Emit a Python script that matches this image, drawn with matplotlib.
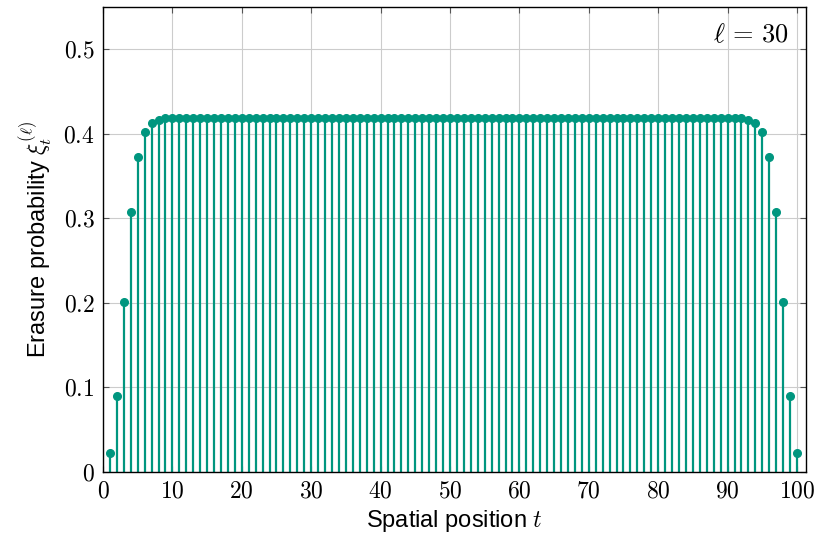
import matplotlib
matplotlib.use('Agg')
import matplotlib.pyplot as plt
import numpy as np

plt.rcParams['mathtext.fontset'] = 'cm'
plt.rcParams['font.family'] = ['Liberation Sans', 'DejaVu Sans']

# erasure probability per spatial position (symmetric profile)
edge_values = [0.0225, 0.0895, 0.201, 0.308, 0.3725, 0.402, 0.4128, 0.4167, 0.4182]
flat_value = 0.4187
positions = np.arange(1, 101)
values = edge_values + [flat_value] * (100 - 2 * len(edge_values)) + edge_values[::-1]

x_ticks = [0, 10, 20, 30, 40, 50, 60, 70, 80, 90, 100]
y_ticks = [0, 0.1, 0.2, 0.3, 0.4, 0.5]
y_tick_labels = ['0', '0.1', '0.2', '0.3', '0.4', '0.5']
color = '#00967f'

fig = plt.figure(figsize=(8.19, 5.37), dpi=100)
ax = fig.add_axes([103 / 819, 1 - 472 / 537, 703 / 819, 465 / 537])

markerline, stemlines, baseline = ax.stem(positions, values, basefmt=' ')
plt.setp(stemlines, color=color, linewidth=1.6)
plt.setp(markerline, color=color, markersize=5.5)
baseline.set_visible(False)

ax.set_xlim(0, 101.3)
ax.set_ylim(0, 0.55)
ax.set_xticks(x_ticks)
ax.set_xticklabels(['$%d$' % v for v in x_ticks], fontsize=17)
ax.set_yticks(y_ticks)
ax.set_yticklabels(['$%s$' % s for s in y_tick_labels], fontsize=17)
ax.tick_params(direction='in', top=True, right=True, length=4,
               color='#555555', pad=6)
ax.grid(True, color='#cccccc', linewidth=0.8)
ax.set_axisbelow(True)
for sp in ax.spines.values():
    sp.set_linewidth(1.0)

ax.set_xlabel('Spatial position $t$', fontsize=17, labelpad=4)
ax.set_ylabel(r'Erasure probability $\xi_t^{(\ell)}$', fontsize=17, labelpad=6)
ax.text(0.975, 0.94, r'$\ell\,=\,30$', transform=ax.transAxes, ha='right',
        va='center', fontsize=19)

fig.savefig('out.png', dpi=100)
